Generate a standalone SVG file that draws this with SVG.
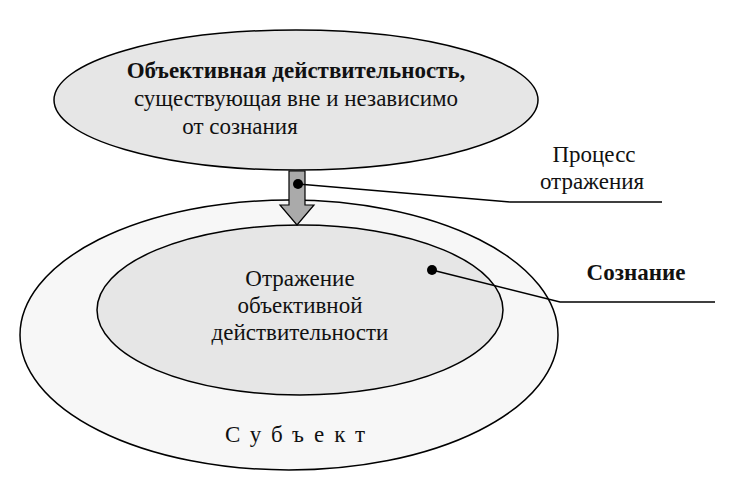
<svg xmlns="http://www.w3.org/2000/svg" width="732" height="488" viewBox="0 0 732 488">
<style>
.t{font-family:"Liberation Serif","DejaVu Serif","Times New Roman",serif;font-size:23px;fill:#111;text-anchor:middle}
.b{font-weight:bold}
.e{stroke:#000;stroke-width:1.5}
.l{stroke:#000;stroke-width:1.3;fill:none}
</style>
<rect width="732" height="488" fill="#fff"/>
<g id="subject"><ellipse class="e" cx="289" cy="335" rx="269" ry="135" fill="#f7f7f7"/>
<text class="t" x="300" y="442" font-size="25" letter-spacing="10">Субъект</text></g>
<g id="reflection"><ellipse class="e" cx="300" cy="310" rx="203" ry="85" fill="#e6e6e6"/>
<text class="t" x="300" y="286">Отражение</text><text class="t" x="300" y="313">объективной</text><text class="t" x="300" y="340">действительности</text></g>
<g id="reality"><ellipse class="e" cx="296" cy="100" rx="242" ry="70" fill="#e6e6e6"/>
<text class="t b" x="296" y="78">Объективная действительность,</text><text class="t" x="296" y="106">существующая вне и независимо</text><text class="t" x="240" y="134">от сознания</text></g>
<g id="labels"><text class="t" x="594" y="162">Процесс</text><text class="t" x="592" y="189">отражения</text>
<text class="t b" x="636" y="280">Сознание</text></g>
<g id="connectors">
<path d="M289 171 V205 H280 L297 225 L314 205 H305 V171 Z" fill="#aaa" stroke="#000" stroke-width="1.2"/>
<circle cx="298" cy="184" r="5"/><path class="l" d="M298 184 L510 202 H662"/>
<circle cx="432" cy="270" r="5"/><path class="l" d="M432 270 L560 302 H715"/>
</g>
</svg>
